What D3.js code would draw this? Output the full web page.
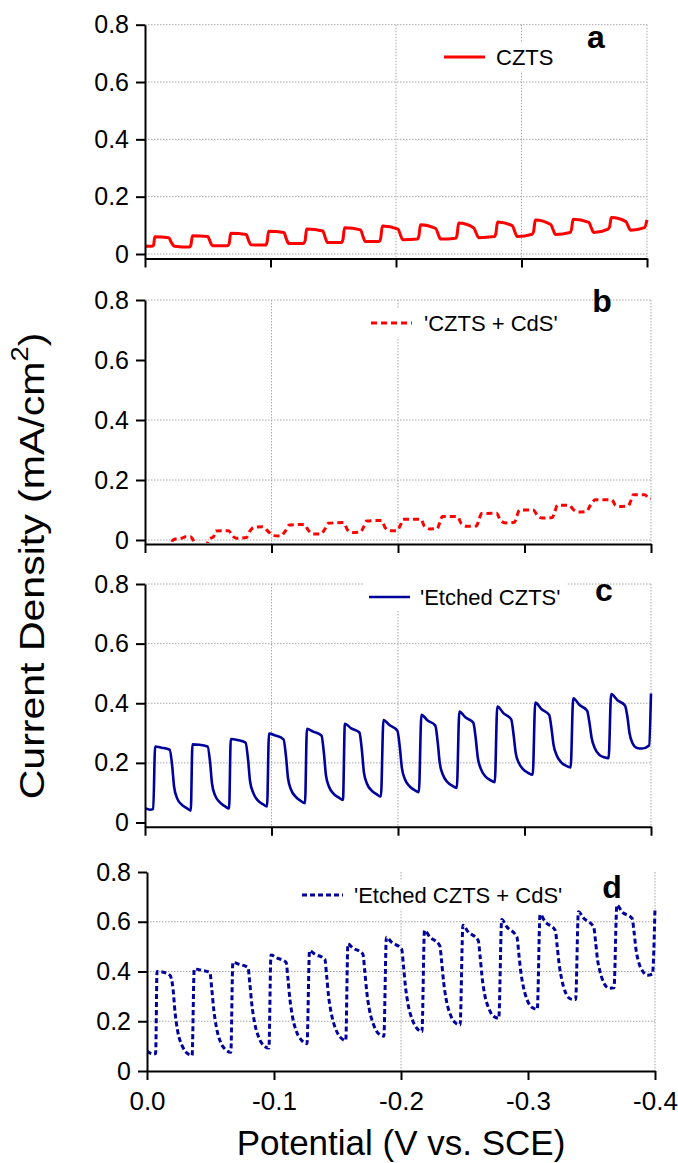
<!DOCTYPE html>
<html>
<head>
<meta charset="utf-8">
<script src="https://cdn.jsdelivr.net/npm/d3@7"></script>
<style>
  body { margin: 0; background: #fff; }
  text { font-family: "Liberation Sans", Arial, sans-serif; fill: #000; }
</style>
</head>
<body>
<svg id="chart" width="678" height="1163"></svg>
<script>
const potentialTicks = [0, -0.1, -0.2, -0.3, -0.4];
const currentTicks = [0, 0.2, 0.4, 0.6, 0.8];
const seriesNames = ['CZTS', "'CZTS + CdS'", "'Etched CZTS'", "'Etched CZTS + CdS'"];
const panelLetters = ['a', 'b', 'c', 'd'];

// [potential (V vs. SCE), current density (mA/cm2)]
const czts = [
  [0, 0.027], [-0.0053, 0.027], [-0.0068, 0.03], [-0.0078, 0.06], [-0.019, 0.057], [-0.021, 0.04], [-0.0236, 0.027], [-0.0354, 0.024],
  [-0.0365, 0.03], [-0.0378, 0.064], [-0.05, 0.061], [-0.052, 0.042], [-0.0537, 0.029], [-0.0658, 0.029],
  [-0.067, 0.035], [-0.0683, 0.072], [-0.0806, 0.068], [-0.0826, 0.047], [-0.0843, 0.032], [-0.096, 0.031],
  [-0.0972, 0.04], [-0.0985, 0.079], [-0.1107, 0.075], [-0.1127, 0.052], [-0.1144, 0.037], [-0.1263, 0.037],
  [-0.1275, 0.045], [-0.1288, 0.087], [-0.1417, 0.08], [-0.1437, 0.056], [-0.1454, 0.04], [-0.1565, 0.04],
  [-0.1577, 0.05], [-0.159, 0.092], [-0.1718, 0.084], [-0.1738, 0.06], [-0.1755, 0.044], [-0.1866, 0.044],
  [-0.1878, 0.055], [-0.1891, 0.098], [-0.2016, 0.087], [-0.2036, 0.066], [-0.2053, 0.05], [-0.217, 0.052],
  [-0.2182, 0.062], [-0.2195, 0.102], [-0.2317, 0.089], [-0.2337, 0.068], [-0.2354, 0.052], [-0.2474, 0.055],
  [-0.2486, 0.065], [-0.2499, 0.108], [-0.262, 0.091], [-0.264, 0.072], [-0.2657, 0.057], [-0.2784, 0.061],
  [-0.2796, 0.072], [-0.2809, 0.112], [-0.2928, 0.098], [-0.2948, 0.076], [-0.2965, 0.061], [-0.3085, 0.069],
  [-0.3097, 0.08], [-0.311, 0.119], [-0.3233, 0.103], [-0.3253, 0.083], [-0.327, 0.068], [-0.3386, 0.075],
  [-0.3398, 0.085], [-0.3411, 0.121], [-0.3537, 0.11], [-0.3557, 0.09], [-0.3574, 0.075], [-0.369, 0.087],
  [-0.3702, 0.095], [-0.3715, 0.127], [-0.3832, 0.113], [-0.3852, 0.095], [-0.3869, 0.083], [-0.398, 0.092],
  [-0.4, 0.119]
];

const cztsCdS = [
  [0, -0.03], [-0.02, -0.02], [-0.022, 0.0], [-0.026, 0.005], [-0.029, 0.006], [-0.032, 0.011], [-0.036, 0.011],
  [-0.038, 0.0], [-0.04, -0.02], [-0.048, -0.02], [-0.051, 0.004], [-0.054, 0.01], [-0.056, 0.03], [-0.066, 0.031],
  [-0.069, 0.015], [-0.072, 0.006], [-0.08, 0.008], [-0.083, 0.03], [-0.086, 0.042], [-0.093, 0.044],
  [-0.097, 0.03], [-0.101, 0.015], [-0.107, 0.013], [-0.111, 0.03], [-0.114, 0.05], [-0.126, 0.052],
  [-0.129, 0.033], [-0.133, 0.02], [-0.139, 0.02], [-0.142, 0.035], [-0.145, 0.056], [-0.157, 0.058],
  [-0.16, 0.034], [-0.164, 0.025], [-0.17, 0.026], [-0.173, 0.045], [-0.175, 0.063], [-0.187, 0.065],
  [-0.19, 0.04], [-0.194, 0.031], [-0.199, 0.031], [-0.202, 0.05], [-0.204, 0.069], [-0.218, 0.069],
  [-0.221, 0.045], [-0.225, 0.037], [-0.231, 0.038], [-0.233, 0.058], [-0.235, 0.078], [-0.247, 0.078],
  [-0.25, 0.055], [-0.254, 0.046], [-0.262, 0.047], [-0.264, 0.068], [-0.266, 0.088], [-0.278, 0.089],
  [-0.281, 0.065], [-0.285, 0.057], [-0.292, 0.059], [-0.294, 0.08], [-0.296, 0.1], [-0.307, 0.1],
  [-0.31, 0.083], [-0.314, 0.073], [-0.322, 0.075], [-0.324, 0.095], [-0.326, 0.116], [-0.335, 0.116],
  [-0.339, 0.1], [-0.343, 0.093], [-0.349, 0.095], [-0.352, 0.115], [-0.356, 0.134], [-0.369, 0.134],
  [-0.372, 0.115], [-0.375, 0.112], [-0.382, 0.114], [-0.384, 0.13], [-0.386, 0.151], [-0.395, 0.151],
  [-0.398, 0.14], [-0.4, 0.138]
];

const etchedCzts = [
  [0, 0.048], [-0.004, 0.043], [-0.0065, 0.045],
  [-0.008, 0.255], [-0.013, 0.251], [-0.0195, 0.244], [-0.0215, 0.19], [-0.023, 0.12], [-0.0255, 0.08], [-0.029, 0.06], [-0.033, 0.048], [-0.0362, 0.04],
  [-0.0375, 0.262], [-0.043, 0.261], [-0.0495, 0.255], [-0.0515, 0.2], [-0.053, 0.13], [-0.0555, 0.09], [-0.059, 0.068], [-0.063, 0.055], [-0.0665, 0.047],
  [-0.0678, 0.28], [-0.073, 0.277], [-0.0795, 0.268], [-0.0815, 0.21], [-0.083, 0.14], [-0.0855, 0.1], [-0.089, 0.075], [-0.093, 0.062], [-0.0965, 0.054],
  [-0.098, 0.298], [-0.103, 0.292], [-0.1095, 0.279], [-0.1115, 0.22], [-0.113, 0.15], [-0.1155, 0.11], [-0.119, 0.087], [-0.123, 0.073], [-0.1265, 0.065],
  [-0.128, 0.314], [-0.133, 0.305], [-0.1395, 0.292], [-0.1415, 0.23], [-0.143, 0.16], [-0.1455, 0.12], [-0.149, 0.097], [-0.153, 0.084], [-0.1565, 0.076],
  [-0.158, 0.331], [-0.163, 0.316], [-0.1695, 0.302], [-0.1715, 0.24], [-0.173, 0.17], [-0.1755, 0.13], [-0.179, 0.108], [-0.183, 0.095], [-0.1865, 0.087],
  [-0.1885, 0.344], [-0.1935, 0.326], [-0.1995, 0.308], [-0.2015, 0.25], [-0.203, 0.185], [-0.2055, 0.145], [-0.209, 0.122], [-0.213, 0.109], [-0.2165, 0.102],
  [-0.2185, 0.361], [-0.2235, 0.342], [-0.2295, 0.325], [-0.2315, 0.265], [-0.233, 0.2], [-0.2355, 0.16], [-0.239, 0.136], [-0.243, 0.123], [-0.2465, 0.116],
  [-0.2485, 0.372], [-0.2535, 0.352], [-0.2595, 0.335], [-0.2615, 0.28], [-0.263, 0.22], [-0.2655, 0.18], [-0.269, 0.155], [-0.273, 0.142], [-0.2765, 0.135],
  [-0.2785, 0.389], [-0.2835, 0.366], [-0.2895, 0.346], [-0.2915, 0.29], [-0.293, 0.235], [-0.2955, 0.2], [-0.299, 0.178], [-0.303, 0.166], [-0.3065, 0.16],
  [-0.3085, 0.402], [-0.3135, 0.38], [-0.3195, 0.361], [-0.3215, 0.31], [-0.323, 0.26], [-0.3255, 0.225], [-0.329, 0.202], [-0.333, 0.19], [-0.3365, 0.185],
  [-0.3385, 0.417], [-0.3435, 0.394], [-0.3495, 0.375], [-0.3515, 0.33], [-0.353, 0.285], [-0.3555, 0.25], [-0.359, 0.228], [-0.363, 0.219], [-0.3665, 0.216],
  [-0.3685, 0.431], [-0.3735, 0.41], [-0.3795, 0.392], [-0.3815, 0.35], [-0.383, 0.3], [-0.3855, 0.265], [-0.389, 0.25], [-0.393, 0.248], [-0.3985, 0.258],
  [-0.4, 0.433]
];

const etchedCztsCdS = [
  [0, 0.081], [-0.005, 0.068], [-0.0068, 0.07],
  [-0.0079, 0.4], [-0.012, 0.398], [-0.018, 0.385], [-0.0205, 0.33], [-0.022, 0.24], [-0.024, 0.165], [-0.028, 0.098], [-0.032, 0.07], [-0.0355, 0.063],
  [-0.0372, 0.41], [-0.043, 0.405], [-0.0495, 0.396], [-0.051, 0.33], [-0.0525, 0.25], [-0.0545, 0.18], [-0.058, 0.115], [-0.062, 0.085], [-0.066, 0.075],
  [-0.0676, 0.437], [-0.072, 0.43], [-0.0795, 0.416], [-0.081, 0.35], [-0.0825, 0.27], [-0.0845, 0.2], [-0.088, 0.135], [-0.092, 0.102], [-0.096, 0.092],
  [-0.0976, 0.466], [-0.102, 0.455], [-0.1095, 0.437], [-0.111, 0.37], [-0.1125, 0.29], [-0.1145, 0.22], [-0.118, 0.155], [-0.122, 0.122], [-0.126, 0.11],
  [-0.128, 0.484], [-0.132, 0.47], [-0.14, 0.45], [-0.1415, 0.38], [-0.143, 0.3], [-0.145, 0.235], [-0.1485, 0.17], [-0.152, 0.137], [-0.1565, 0.123],
  [-0.1582, 0.511], [-0.162, 0.495], [-0.17, 0.47], [-0.1715, 0.4], [-0.173, 0.32], [-0.175, 0.25], [-0.1785, 0.185], [-0.182, 0.152], [-0.1865, 0.14],
  [-0.1885, 0.538], [-0.1925, 0.518], [-0.2005, 0.49], [-0.202, 0.42], [-0.2035, 0.34], [-0.2055, 0.27], [-0.209, 0.205], [-0.2125, 0.172], [-0.2165, 0.158],
  [-0.2185, 0.565], [-0.2225, 0.54], [-0.2305, 0.504], [-0.232, 0.44], [-0.2335, 0.36], [-0.2355, 0.29], [-0.239, 0.225], [-0.2425, 0.195], [-0.2465, 0.185],
  [-0.2488, 0.586], [-0.2528, 0.56], [-0.2608, 0.525], [-0.2623, 0.46], [-0.2638, 0.38], [-0.2658, 0.31], [-0.2693, 0.25], [-0.2728, 0.22], [-0.277, 0.212],
  [-0.2793, 0.609], [-0.2833, 0.58], [-0.2913, 0.538], [-0.2928, 0.47], [-0.2943, 0.4], [-0.2963, 0.34], [-0.2998, 0.28], [-0.3033, 0.255], [-0.3073, 0.248],
  [-0.3095, 0.629], [-0.3135, 0.6], [-0.3215, 0.565], [-0.323, 0.5], [-0.3245, 0.43], [-0.3265, 0.37], [-0.33, 0.31], [-0.3335, 0.29], [-0.3375, 0.287],
  [-0.3397, 0.64], [-0.3437, 0.615], [-0.3517, 0.579], [-0.3532, 0.52], [-0.3547, 0.45], [-0.3567, 0.4], [-0.3602, 0.35], [-0.3637, 0.333], [-0.3677, 0.335],
  [-0.37, 0.667], [-0.374, 0.64], [-0.382, 0.613], [-0.3835, 0.56], [-0.385, 0.49], [-0.387, 0.44], [-0.3905, 0.4], [-0.394, 0.385], [-0.398, 0.39],
  [-0.4, 0.654]
];

const red = '#ff0000';
const navy = '#00009c';

// layout of the four stacked panels (pixel positions)
const panels = [
  { data: czts, color: red, dash: null, sw: 3, top: 24.7, zero: 254, bottom: 258.5, x0: 145, x1: 647,
    gridX: [-0.2, -0.3, -0.4], gridY: [0, 0.2, 0.4, 0.6, 0.8],
    legend: { x: 444, y: 57, tx: 496 }, letter: { x: 596, y: 48 } },
  { data: cztsCdS, color: red, dash: '6,4', sw: 3, top: 300, zero: 540, bottom: 544, x0: 145, x1: 651,
    gridX: [-0.1, -0.2, -0.4], gridY: [0, 0.2, 0.4, 0.8],
    legend: { x: 371, y: 323, tx: 424 }, letter: { x: 602, y: 312 } },
  { data: etchedCzts, color: navy, dash: null, sw: 2.6, top: 584, zero: 822.5, bottom: 826.7, x0: 145, x1: 651,
    gridX: [-0.1, -0.2, -0.4], gridY: [0.2, 0.4, 0.6, 0.8],
    legend: { x: 369, y: 597, tx: 420 }, letter: { x: 604, y: 601 } },
  { data: etchedCztsCdS, color: navy, dash: '5,3', sw: 3, top: 872, zero: 1071, bottom: 1071, x0: 147, x1: 655,
    gridX: [-0.2, -0.4], gridY: [0.2, 0.4, 0.6],
    legend: { x: 302, y: 895, tx: 354 }, letter: { x: 612, y: 898 } }
];

const svg = d3.select('#chart');
const fmtY = d => d === 0 ? '0' : d3.format('.1f')(d);
const fmtX = d => d.toFixed(1);

panels.forEach((p, i) => {
  const x = d3.scaleLinear().domain([0, -0.4]).range([p.x0, p.x1]);
  const y0 = d3.scaleLinear().domain([0, 0.8]).range([p.zero, p.top]);
  const y = d3.scaleLinear().domain([y0.invert(p.bottom), 0.8]).range([p.bottom, p.top]);

  const g = svg.append('g');

  // dotted grid
  g.append('g').selectAll('line').data(p.gridY).join('line')
    .attr('x1', p.x0).attr('x2', p.x1)
    .attr('y1', d => y(d)).attr('y2', d => y(d))
    .attr('stroke', '#a8a8a8').attr('stroke-width', 1).attr('stroke-dasharray', '1.5,1.5');
  g.append('g').selectAll('line').data(p.gridX).join('line')
    .attr('x1', d => x(d)).attr('x2', d => x(d))
    .attr('y1', p.top).attr('y2', p.bottom)
    .attr('stroke', '#a8a8a8').attr('stroke-width', 1).attr('stroke-dasharray', '1.5,1.5');

  const clipId = 'clip' + i;
  svg.append('clipPath').attr('id', clipId).append('rect')
    .attr('x', p.x0).attr('y', p.top - 2).attr('width', p.x1 - p.x0 + 2).attr('height', p.bottom - p.top + 1);

  const line = d3.line()
    .x(d => x(d[0]))
    .y(d => y(d[1]))
    .curve(d3.curveMonotoneX);

  g.append('path')
    .datum(p.data)
    .attr('clip-path', `url(#${clipId})`)
    .attr('fill', 'none')
    .attr('stroke', p.color)
    .attr('stroke-width', p.sw)
    .attr('stroke-linejoin', 'round')
    .attr('stroke-dasharray', p.dash)
    .attr('d', line);

  // legend with white background
  const lg = g.append('g');
  const bg = lg.append('rect').attr('fill', '#fff');
  lg.append('line')
    .attr('x1', p.legend.x).attr('x2', p.legend.x + 41)
    .attr('y1', p.legend.y).attr('y2', p.legend.y)
    .attr('stroke', p.color).attr('stroke-width', p.sw)
    .attr('stroke-dasharray', p.dash);
  const lt = lg.append('text')
    .attr('x', p.legend.tx).attr('y', p.legend.y)
    .attr('dy', '0.35em')
    .attr('font-size', 22)
    .text(seriesNames[i]);
  const tw = lt.node().getComputedTextLength();
  bg.attr('x', p.legend.x - 6).attr('y', p.legend.y - 14)
    .attr('width', p.legend.tx + tw - p.legend.x + 12).attr('height', 28);

  g.append('text')
    .attr('x', p.letter.x).attr('y', p.letter.y)
    .attr('text-anchor', 'middle')
    .attr('font-size', 32).attr('font-weight', 'bold')
    .text(panelLetters[i]);

  // axes
  g.append('g')
    .attr('transform', `translate(${p.x0},0)`)
    .call(d3.axisLeft(y).tickValues(currentTicks).tickFormat(fmtY)
      .tickSize(9).tickSizeOuter(0).tickPadding(7))
    .call(a => a.selectAll('path,line').attr('stroke', '#000').attr('stroke-width', 2))
    .call(a => a.selectAll('text').attr('font-size', 25).attr('font-family', null));

  g.append('g')
    .attr('transform', `translate(0,${p.bottom})`)
    .call(d3.axisBottom(x).tickValues(potentialTicks)
      .tickFormat(i === 3 ? fmtX : () => '')
      .tickSize(9).tickSizeOuter(0).tickPadding(12))
    .call(a => a.selectAll('path,line').attr('stroke', '#000').attr('stroke-width', 2))
    .call(a => a.selectAll('text').attr('font-size', 26).attr('font-family', null));
});

svg.append('text')
  .attr('x', 401).attr('y', 1155)
  .attr('text-anchor', 'middle')
  .attr('font-size', 35)
  .text('Potential (V vs. SCE)');

const yt = svg.append('text')
  .attr('transform', 'translate(44,566) rotate(-90) scale(1.14,1)')
  .attr('text-anchor', 'middle')
  .attr('font-size', 36);
yt.append('tspan').text('Current Density (mA/cm');
yt.append('tspan').attr('font-size', 24).attr('dy', -16).text('2');
yt.append('tspan').attr('dy', 16).text(')');
</script>
</body>
</html>
